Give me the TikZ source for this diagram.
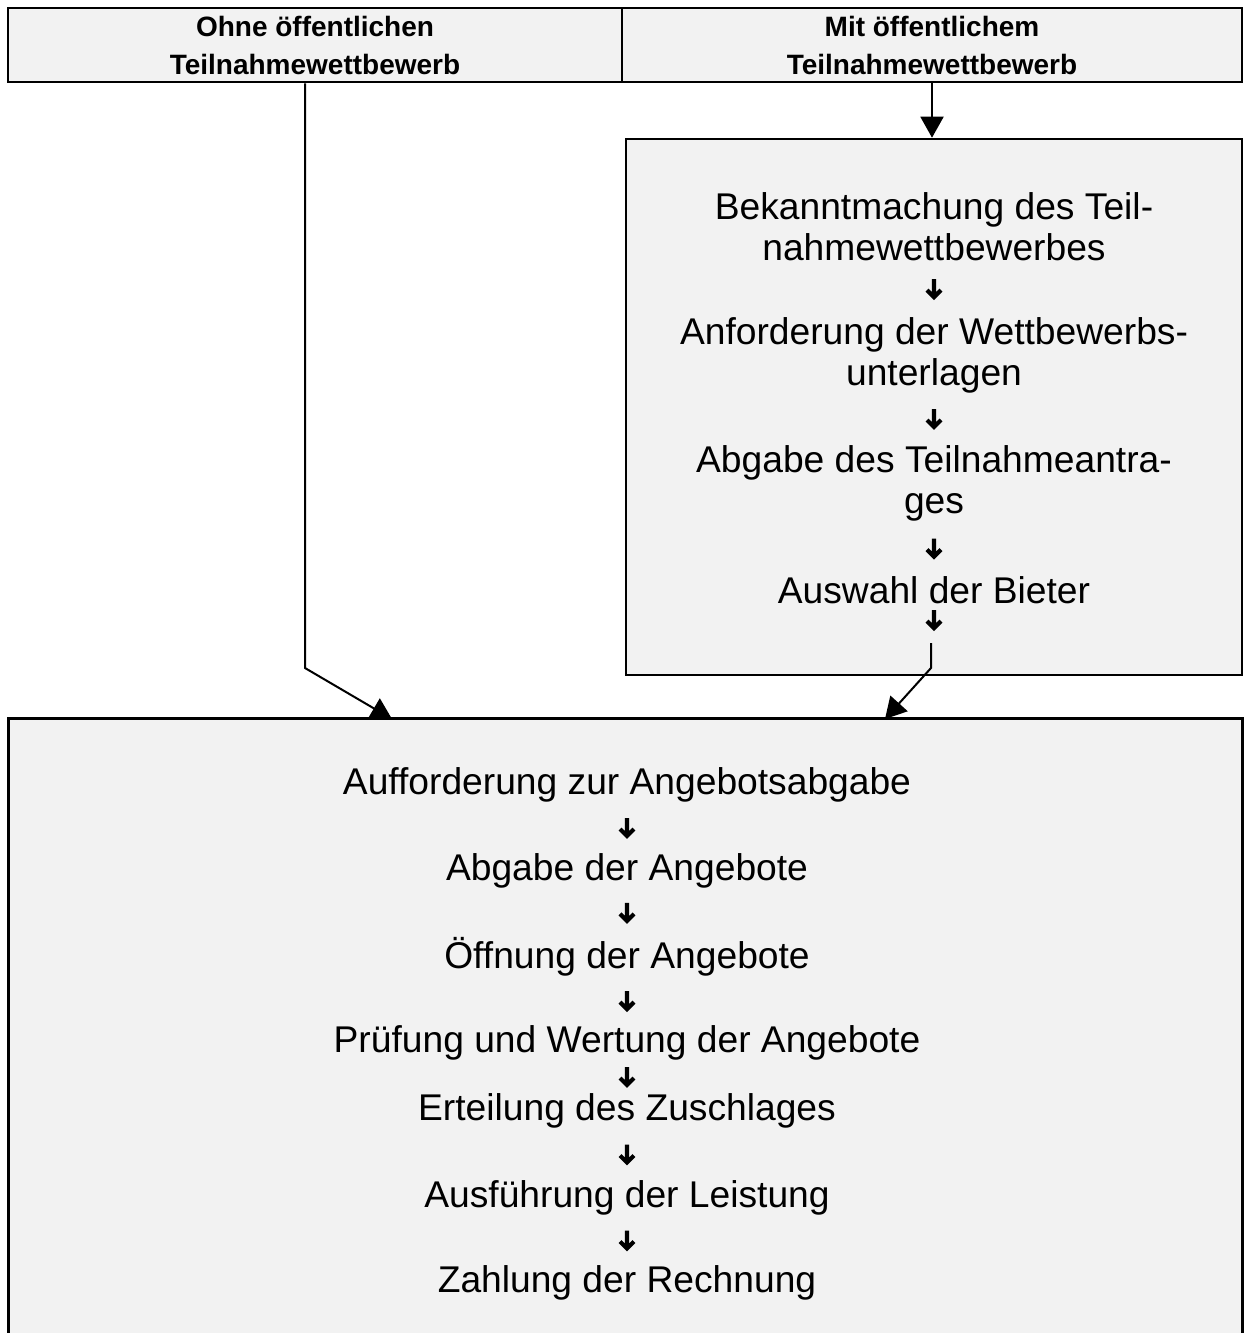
\documentclass[tikz,border=0pt]{standalone}
\usepackage{fontspec}
\setmainfont{Liberation Sans}
\usetikzlibrary{arrows.meta, calc}
\definecolor{panelgray}{RGB}{242,242,242}
\newcommand{\stepdown}[1]{\draw[glyph] #1 ++(0,-10) -- ++(0,18) ++(-7,-7) -- ++(7,7) -- ++(7,-7);}

\begin{document}
\begin{tikzpicture}[x=0.5pt, y=-0.5pt, >={Triangle[length=10.5pt, width=11.5pt]},
    panel/.style={fill=panelgray, inner sep=0pt},
    headcell/.style={panel, draw, line width=1.3pt, minimum height=37pt, align=center,
        font=\bfseries\fontsize{14}{19}\selectfont},
    steptext/.style={align=center, inner sep=0pt, font=\fontsize{18.6}{20.5}\selectfont},
    flow/.style={->, line width=1pt},
    glyph/.style={line width=2.1pt, miter limit=4}]
    \useasboundingbox (0,0) rectangle (1244,1333);

    % Kopfzeile
    \node[headcell, minimum width=307pt] (ohne) at (315,45) {Ohne öffentlichen\\Teilnahmewettbewerb};
    \node[headcell, minimum width=310pt] (mit) at (932,45) {Mit öffentlichem\\Teilnahmewettbewerb};

    % Kästen
    \node[panel, draw, line width=1.3pt, minimum width=308pt, minimum height=268pt] (teil) at (934,407) {};
    \node[panel, minimum width=616.5pt, minimum height=310.5pt] (vergabe) at (625.5,1029.5) {};
    \draw[line width=1.3pt] (vergabe.south west) -- (vergabe.north west)
        -- (vergabe.north east) -- (vergabe.south east);

    % Teilnahmewettbewerb
    \node[steptext] (bekannt) at (934,227) {Bekanntmachung des Teil-\\nahmewettbewerbes};
    \node[steptext] (anford) at (934,355) {Anforderung der Wettbewerbs-\\unterlagen};
    \node[steptext] (antrag) at (934,483) {Abgabe des Teilnahmeantra-\\ges};
    \node[steptext] (auswahl) at (934,590) {Auswahl der Bieter};

    % Vergabe
    \node[steptext] (auffo) at (627,785) {Aufforderung zur Angebotsabgabe};
    \node[steptext] (abgabe) at (627,871) {Abgabe der Angebote};
    \node[steptext] (oeffn) at (627,957) {Öffnung der Angebote};
    \node[steptext] (pruef) at (627,1043) {Prüfung und Wertung der Angebote};
    \node[steptext] (zuschl) at (627,1111) {Erteilung des Zuschlages};
    \node[steptext] (ausf) at (627,1198) {Ausführung der Leistung};
    \node[steptext] (zahl) at (627,1283) {Zahlung der Rechnung};

    % kleine Pfeile
    \foreach \a/\b in {bekannt/anford, anford/antrag, antrag/auswahl,
        auffo/abgabe, abgabe/oeffn, oeffn/pruef, pruef/zuschl, zuschl/ausf, ausf/zahl} {
        \stepdown{($(\a.south)!.5!(\b.north)$)}
    }
    \stepdown{($(auswahl.south)+(0,16)$)}

    % Verbindungen
    \coordinate (lknick) at (305,668);
    \coordinate (lziel) at (392,719);
    \coordinate (rstart) at (931,643);
    \coordinate (rknick) at (931,668);
    \coordinate (rziel) at (885,719);
    \draw[flow] (ohne.south -| lknick) -- (lknick) -- (lziel);
    \draw[flow] (mit.south) -- (teil.north -| mit.south);
    \draw[flow] (rstart) -- (rknick) -- (rziel);
\end{tikzpicture}
\end{document}
